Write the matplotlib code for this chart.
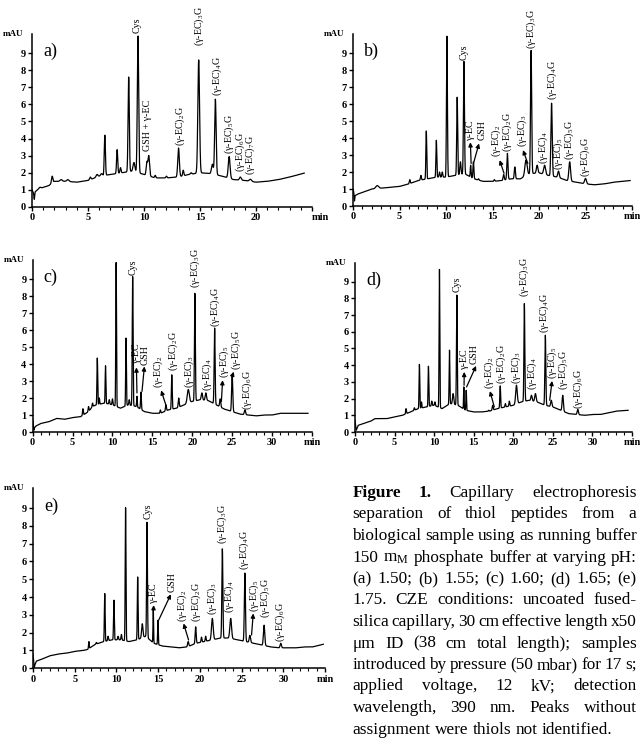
import numpy as np
import matplotlib
matplotlib.use("Agg")
import matplotlib.pyplot as plt
from matplotlib.ticker import MultipleLocator

plt.rcParams['font.family'] = ['Liberation Serif', 'DejaVu Serif']
plt.rcParams['mathtext.fontset'] = 'custom'
plt.rcParams['mathtext.rm'] = 'Liberation Serif'
plt.rcParams['mathtext.it'] = 'Liberation Serif:italic'
plt.rcParams['mathtext.bf'] = 'Liberation Serif:bold'

# ---------------- Panel a (pH 1.50) ----------------
a_base_t = [0, 0.15, 0.3, 0.6, 1.0, 1.5, 2.0, 3.0, 4.0, 5.0, 6.0, 7.0, 8.0, 9.0, 10.0, 11.0, 12.0, 13.0, 14.0,
            15.0, 16.0, 17.0, 18.0, 19.0, 20.0, 21.0, 22.0, 23.0, 24.3]
a_base_y = [1.0, 0.8, 0.9, 1.05, 1.15, 1.25, 1.5, 1.5, 1.45, 1.55, 1.8, 1.9, 2.0, 2.1, 1.9, 1.7, 1.7, 1.75, 1.9,
            2.0, 1.95, 1.8, 1.6, 1.55, 1.45, 1.5, 1.6, 1.75, 1.98]
a_peak_t = [0.2, 0.7, 1.8, 2.6, 3.2, 5.2, 5.8, 6.2, 6.5, 7.6, 7.9, 8.63, 9.1, 9.46, 10.25, 10.42, 11.0, 12.0,
            13.08, 13.5, 14.2, 14.88, 16.1, 16.37, 17.6, 18.6, 19.5]
a_peak_y = [0.45, 1.15, 1.8, 1.6, 1.6, 1.75, 1.9, 1.95, 4.2, 3.35, 2.3, 7.6, 2.6, 10.0, 2.6, 3.0, 1.85, 1.8,
            3.45, 2.15, 2.0, 8.6, 2.5, 6.3, 2.95, 1.75, 1.62]
a_peak_w = [0.03, 0.08, 0.06, 0.1, 0.1, 0.06, 0.08, 0.08, 0.05, 0.05, 0.05, 0.055, 0.08, 0.06, 0.06, 0.07, 0.05,
            0.05, 0.07, 0.05, 0.06, 0.075, 0.08, 0.065, 0.08, 0.08, 0.1]
a_lab_text = ["Cys", "GSH + γ-EC", "(γ-EC)$_2$G", "(γ-EC)$_3$G", "(γ-EC)$_4$G", "(γ-EC)$_5$G",
              "(γ-EC)$_6$G", "(γ-EC)$_7$G"]
a_lab_t = [9.38, 10.27, 13.24, 14.97, 16.5, 17.65, 18.62, 19.5]
a_lab_y = [10.15, 3.25, 3.55, 9.4, 6.5, 3.1, 2.05, 1.85]
a_arr = []  # (head_t, head_y, tail_t, tail_y)

# ---------------- Panel b (pH 1.55) ----------------
b_base_t = [0, 0.2, 0.5, 1.0, 1.5, 2.0, 3.0, 4.0, 5.0, 6.0, 7.0, 8.0, 9.0, 10.0, 11.0, 12.0, 13.0, 14.0, 15.0,
            16.0, 17.0, 18.0, 19.0, 20.0, 21.0, 22.0, 23.0, 24.0, 25.0, 26.0, 27.0, 28.0, 29.0, 29.8]
b_base_y = [1.0, 0.6, 0.7, 0.8, 0.9, 1.0, 1.05, 1.1, 1.15, 1.3, 1.5, 1.6, 1.7, 1.7, 1.8, 1.9, 1.6, 1.45, 1.45,
            1.5, 1.6, 1.6, 1.9, 1.95, 1.8, 1.7, 1.5, 1.4, 1.3, 1.25, 1.3, 1.4, 1.45, 1.5]
b_peak_t = [0.15, 2.6, 6.1, 7.3, 7.88, 8.96, 9.3, 9.6, 10.1, 11.2, 11.55, 11.93, 12.65, 12.95, 13.5, 15.2,
            16.2, 16.6, 17.4, 18.6, 19.15, 19.8, 20.6, 21.35, 22.1, 23.3, 25.0]
b_peak_y = [0.3, 1.2, 1.55, 1.8, 4.42, 3.87, 2.0, 2.0, 10.0, 6.4, 2.6, 8.5, 2.4, 2.6, 1.6, 1.55,
            1.85, 3.1, 2.3, 2.7, 9.15, 2.4, 2.4, 6.05, 2.05, 2.6, 1.62]
b_peak_w = [0.03, 0.15, 0.05, 0.05, 0.045, 0.045, 0.05, 0.05, 0.05, 0.05, 0.06, 0.055, 0.04, 0.05, 0.05, 0.05,
            0.06, 0.06, 0.06, 0.12, 0.06, 0.08, 0.1, 0.07, 0.08, 0.09, 0.1]
b_lab_text = ["Cys", "γ-EC", "GSH", "(γ-EC)$_2$", "(γ-EC)$_2$G", "(γ-EC)$_3$", "(γ-EC)$_3$G", "(γ-EC)$_4$",
              "(γ-EC)$_4$G", "(γ-EC)$_5$", "(γ-EC)$_5$G", "(γ-EC)$_6$G"]
b_lab_t = [12.0, 12.6, 13.9, 15.4, 16.56, 18.17, 19.18, 20.5, 21.4, 22.1, 23.3, 25.0]
b_lab_y = [8.6, 3.9, 3.9, 2.9, 3.2, 3.48, 9.26, 2.5, 6.22, 2.11, 2.7, 1.72]
b_arr = [(12.62, 3.75, 12.7, 2.5), (13.55, 3.68, 12.95, 2.5), (15.77, 2.7, 16.24, 1.92), (18.28, 3.29, 18.8, 2.5)]

# ---------------- Panel c (pH 1.60) ----------------
c_base_t = [0, 0.15, 0.4, 1, 2, 3, 4, 5, 6, 7, 7.5, 8, 9, 10, 11, 12, 13, 14, 15, 16, 17, 18, 19, 20, 21, 22,
            23, 24, 25, 26, 27, 28, 29, 30, 31, 32, 33, 34.5]
c_base_y = [0.8, 0.2, 0.35, 0.5, 0.6, 0.8, 0.75, 0.85, 0.9, 1.2, 1.5, 1.6, 1.7, 1.6, 1.4, 1.6, 1.5, 1.2, 1.1,
            1.1, 1.3, 1.4, 1.6, 1.8, 1.9, 1.85, 1.6, 1.35, 1.2, 1.05, 1.0, 0.95, 1.0, 1.0, 1.1, 1.1, 1.1, 1.1]
c_peak_t = [0.15, 6.3, 7.0, 7.5, 8.1, 8.35, 9.13, 9.6, 10.0, 10.46, 11.7, 12.1, 12.53, 13.07, 13.57, 16.0,
            16.7, 17.43, 18.3, 19.5, 20.33, 21.2, 21.7, 22.8, 23.5, 25.0, 26.6]
c_peak_y = [0.1, 1.37, 1.5, 1.7, 4.35, 2.0, 3.9, 1.9, 1.95, 10.0, 5.53, 1.9, 9.16, 2.1, 2.35, 1.3,
            1.6, 3.37, 2.0, 2.5, 8.18, 2.3, 2.3, 6.12, 1.95, 3.37, 1.3]
c_peak_w = [0.03, 0.05, 0.05, 0.05, 0.045, 0.04, 0.045, 0.05, 0.05, 0.045, 0.045, 0.05, 0.05, 0.04, 0.05, 0.05,
            0.06, 0.05, 0.06, 0.13, 0.055, 0.08, 0.08, 0.06, 0.07, 0.07, 0.08]
c_lab_text = ["Cys", "γ-EC", "GSH", "(γ-EC)$_2$", "(γ-EC)$_2$G", "(γ-EC)$_3$", "(γ-EC)$_3$G", "(γ-EC)$_4$",
              "(γ-EC)$_4$G", "(γ-EC)$_5$", "(γ-EC)$_5$G", "(γ-EC)$_6$G"]
c_lab_t = [12.53, 12.95, 14.05, 15.75, 17.6, 19.6, 20.4, 21.87, 22.9, 23.98, 25.48, 26.85]
c_lab_y = [9.25, 4.06, 3.96, 2.59, 3.57, 2.59, 8.47, 2.39, 6.2, 3.18, 3.67, 1.31]
c_arr = [(13.0, 3.8, 13.07, 2.3), (14.0, 3.86, 13.7, 2.39), (16.1, 2.45, 16.68, 1.6),
         (23.8, 3.05, 23.65, 1.8), (25.2, 3.55, 25.02, 3.3)]

# ---------------- Panel d (pH 1.65) ----------------
d_base_t = [0, 0.15, 0.4, 1, 2, 2.5, 4, 5, 6, 7, 8, 9, 10, 11, 12, 13, 14, 15, 16, 17, 18, 19, 20, 21, 22, 23,
            24, 25, 26, 27, 28, 29, 30, 31, 32, 33, 34.5]
d_base_y = [0.7, 0.1, 0.4, 0.5, 0.65, 0.8, 0.8, 0.9, 1.0, 1.2, 1.4, 1.5, 1.6, 1.4, 1.7, 1.6, 1.3, 1.2, 1.2, 1.25,
            1.4, 1.5, 1.6, 1.8, 1.9, 1.8, 1.6, 1.5, 1.3, 1.1, 1.05, 1.0, 1.05, 1.05, 1.15, 1.25, 1.3]
d_peak_t = [0.15, 6.45, 7.5, 8.14, 8.4, 9.28, 9.7, 10.1, 10.67, 11.94, 12.4, 12.87, 13.75, 14.05, 16.9, 17.4,
            18.35, 19.0, 19.5, 20.4, 21.4, 22.3, 22.8, 24.05, 24.8, 26.25, 28.15]
d_peak_y = [0.1, 1.4, 1.45, 4.06, 1.8, 3.94, 1.85, 1.8, 9.74, 4.9, 2.3, 8.2, 2.7, 2.5, 1.3, 1.6,
            2.76, 1.7, 1.85, 2.8, 7.7, 2.2, 2.3, 5.8, 1.9, 2.2, 1.35]
d_peak_w = [0.03, 0.05, 0.05, 0.045, 0.04, 0.045, 0.05, 0.05, 0.045, 0.045, 0.08, 0.05, 0.035, 0.04, 0.05, 0.06,
            0.05, 0.05, 0.05, 0.1, 0.055, 0.08, 0.09, 0.06, 0.08, 0.08, 0.08]
d_lab_text = ["Cys", "γ-EC", "GSH", "(γ-EC)$_2$", "(γ-EC)$_2$G", "(γ-EC)$_3$", "(γ-EC)$_3$G", "(γ-EC)$_4$",
              "(γ-EC)$_4$G", "(γ-EC)$_5$", "(γ-EC)$_5$G", "(γ-EC)$_6$G"]
d_lab_t = [12.87, 13.8, 15.1, 17.0, 18.45, 20.38, 21.43, 22.36, 23.92, 24.95, 26.35, 28.27]
d_lab_y = [8.4, 3.8, 4.1, 2.6, 2.9, 2.9, 8.1, 2.5, 5.9, 3.2, 2.5, 1.4]
d_arr = [(13.8, 3.6, 13.78, 2.8), (15.3, 3.96, 14.1, 2.7), (17.05, 2.45, 17.6, 1.5), (24.9, 3.06, 24.6, 1.9)]

# ---------------- Panel e (pH 1.75) ----------------
e_base_t = [0, 0.15, 0.4, 1, 2, 3, 4, 5, 6, 6.5, 7.5, 8.5, 9.5, 10.5, 11.5, 12.5, 13.5, 14.5, 15.5, 16.5,
            17.5, 18.5, 19.5, 20.5, 21.5, 22.5, 23.5, 24.5, 25.5, 26.5, 27.5, 28.5, 29.5, 30.5, 31.5, 32.5,
            33.5, 34.8]
e_base_y = [0.8, 0.1, 0.4, 0.5, 0.7, 0.8, 0.85, 0.95, 1.0, 1.05, 1.35, 1.5, 1.6, 1.6, 1.5, 1.6, 1.8, 1.4, 1.25,
            1.2, 1.15, 1.2, 1.4, 1.5, 1.6, 1.7, 1.7, 1.6, 1.5, 1.4, 1.3, 1.2, 1.15, 1.15, 1.15, 1.2, 1.2, 1.35]
e_peak_t = [0.15, 6.7, 7.6, 8.6, 9.0, 9.7, 10.2, 10.6, 11.1, 12.55, 13.1, 13.67, 14.42, 14.98, 18.6, 19.5,
            20.2, 20.7, 21.5, 22.7, 23.7, 25.4, 26.0, 27.7, 29.7]
e_peak_y = [0.05, 1.5, 1.45, 4.2, 1.8, 3.83, 1.8, 1.9, 9.05, 5.13, 2.5, 8.2, 3.3, 2.7, 1.5, 2.33,
            1.75, 1.8, 2.8, 6.72, 2.8, 5.35, 1.85, 2.42, 1.4]
e_peak_w = [0.03, 0.04, 0.05, 0.045, 0.05, 0.045, 0.05, 0.05, 0.045, 0.045, 0.08, 0.05, 0.035, 0.04, 0.07, 0.06,
            0.05, 0.05, 0.1, 0.06, 0.1, 0.065, 0.08, 0.08, 0.08]
e_lab_text = ["Cys", "γ-EC", "GSH", "(γ-EC)$_2$", "(γ-EC)$_2$G", "(γ-EC)$_3$", "(γ-EC)$_3$G", "(γ-EC)$_4$",
              "(γ-EC)$_4$G", "(γ-EC)$_5$", "(γ-EC)$_5$G", "(γ-EC)$_6$G"]
e_lab_t = [13.75, 14.42, 16.73, 17.85, 19.6, 21.43, 22.71, 23.5, 25.38, 26.55, 27.85, 29.6]
e_lab_y = [8.4, 3.64, 4.29, 2.61, 2.61, 2.99, 7.0, 3.08, 5.5, 3.17, 2.8, 1.49]
e_arr = [(14.46, 3.55, 14.45, 3.3), (16.53, 4.16, 15.06, 2.7), (18.05, 2.52, 18.65, 1.59), (26.4, 3.08, 26.2, 1.87)]

caption_lines = [
    "Figure 1. Capillary electrophoresis",
    "separation of thiol peptides from a",
    "biological sample using as running buffer",
    "150 m$_\\mathrm{M}$ phosphate buffer at varying pH:",
    "(a) 1.50; (b) 1.55; (c) 1.60; (d) 1.65; (e)",
    "1.75. CZE conditions: uncoated fused-",
    "silica capillary, 30 cm effective length x50",
    "μm ID (38 cm total length); samples",
    "introduced by pressure (50 mbar) for 17 s;",
    "applied voltage, 12 kV; detection",
    "wavelength, 390 nm. Peaks without",
    "assignment were thiols not identified.",
]

panels = [
    dict(tag="a)", rect=[0.0498, 0.7203, 0.4355, 0.2334], xmax=25, tick_last=20,
         bt=a_base_t, by=a_base_y, pt=a_peak_t, py=a_peak_y, pw=a_peak_w,
         lt=a_lab_text, lx=a_lab_t, ly=a_lab_y, arr=a_arr, minha="left"),
    dict(tag="b)", rect=[0.549, 0.7216, 0.4339, 0.232], xmax=30, tick_last=25,
         bt=b_base_t, by=b_base_y, pt=b_peak_t, py=b_peak_y, pw=b_peak_w,
         lt=b_lab_text, lx=b_lab_t, ly=b_lab_y, arr=b_arr, minha="center"),
    dict(tag="c)", rect=[0.0508, 0.4162, 0.4344, 0.232], xmax=35, tick_last=30,
         bt=c_base_t, by=c_base_y, pt=c_peak_t, py=c_peak_y, pw=c_peak_w,
         lt=c_lab_text, lx=c_lab_t, ly=c_lab_y, arr=c_arr, minha="center"),
    dict(tag="d)", rect=[0.5521, 0.4162, 0.4308, 0.228], xmax=35, tick_last=30,
         bt=d_base_t, by=d_base_y, pt=d_peak_t, py=d_peak_y, pw=d_peak_w,
         lt=d_lab_text, lx=d_lab_t, ly=d_lab_y, arr=d_arr, minha="center"),
    dict(tag="e)", rect=[0.0513, 0.0969, 0.4541, 0.243], xmax=35, tick_last=30,
         bt=e_base_t, by=e_base_y, pt=e_peak_t, py=e_peak_y, pw=e_peak_w,
         lt=e_lab_text, lx=e_lab_t, ly=e_lab_y, arr=e_arr, minha="center"),
]

fig = plt.figure(figsize=(6.43, 7.40), dpi=100)

for p in panels:
    ax = fig.add_axes(p["rect"])
    t = np.linspace(p["bt"][0], p["bt"][-1], 4000)
    base = np.interp(t, p["bt"], p["by"])
    y = base.copy()
    for tp, yp, w in zip(p["pt"], p["py"], p["pw"]):
        amp = yp - np.interp(tp, p["bt"], p["by"])
        y += amp * np.exp(-0.5 * ((t - tp) / w) ** 2)
    ax.plot(t, y, color="black", lw=0.9)
    ax.set_xlim(0, p["xmax"])
    ax.set_ylim(0, 10.1)
    for s in ("top", "right"):
        ax.spines[s].set_visible(False)
    for s in ("left", "bottom"):
        ax.spines[s].set_linewidth(1.1)
    xt = list(range(0, p["tick_last"] + 1, 5)) + [p["xmax"]]
    ax.set_xticks(xt)
    ax.set_xticklabels([str(v) for v in xt[:-1]] + ["min"])
    ax.xaxis.set_minor_locator(MultipleLocator(1))
    ax.set_yticks(range(0, 10))
    ax.tick_params(axis="both", which="major", direction="out", length=3, width=1.0,
                   labelsize=7.5, pad=1.5)
    ax.tick_params(axis="x", which="minor", direction="out", length=2, width=0.8)
    for lab in ax.get_xticklabels() + ax.get_yticklabels():
        lab.set_fontweight("bold")
    xtl = ax.get_xticklabels()
    xtl[-1].set_horizontalalignment(p["minha"])
    ax.text(-0.03, 1.0, "mAU", transform=ax.transAxes, ha="right", va="center",
            fontsize=6.5, fontweight="bold")
    ax.text(0.04, 0.9, p["tag"], transform=ax.transAxes, ha="left", va="center", fontsize=13)
    for txt, lx, ly in zip(p["lt"], p["lx"], p["ly"]):
        ax.text(lx, ly, txt, rotation=90, ha="center", va="bottom", fontsize=7.2, clip_on=False)
    for ht, hy, tt, ty in p["arr"]:
        ax.annotate("", xy=(ht, hy), xytext=(tt, ty),
                    arrowprops=dict(arrowstyle="-|>", color="black", lw=0.9,
                                    mutation_scale=6, shrinkA=0, shrinkB=0))

# Caption, justified
renderer = fig.canvas.get_renderer()
fs = 12.4
x0, x1 = 352.5 / 643, 636.5 / 643
y_first = 491.0
dy = 21.5
figw = fig.bbox.width
probe1 = fig.text(0, 0, "a b", fontsize=fs)
probe2 = fig.text(0, 0, "ab", fontsize=fs)
space_w = (probe1.get_window_extent(renderer).width - probe2.get_window_extent(renderer).width) / figw
probe1.remove()
probe2.remove()
for i, line in enumerate(caption_lines):
    words = line.split(" ")
    ypix = y_first + i * dy
    yf = 1 - ypix / 740
    objs, widths = [], []
    for j, w in enumerate(words):
        bold = (i == 0 and j < 2)
        tobj = fig.text(0, yf, w, fontsize=fs, fontweight="bold" if bold else "normal",
                        va="center_baseline", ha="left")
        bb = tobj.get_window_extent(renderer)
        objs.append(tobj)
        widths.append(bb.width / figw)
    if i == len(caption_lines) - 1 or len(words) == 1:
        gap = space_w
    else:
        gap = (x1 - x0 - sum(widths)) / (len(words) - 1)
    x = x0
    for tobj, w in zip(objs, widths):
        tobj.set_x(x)
        x += w + gap

fig.savefig("out.png", dpi=100)
